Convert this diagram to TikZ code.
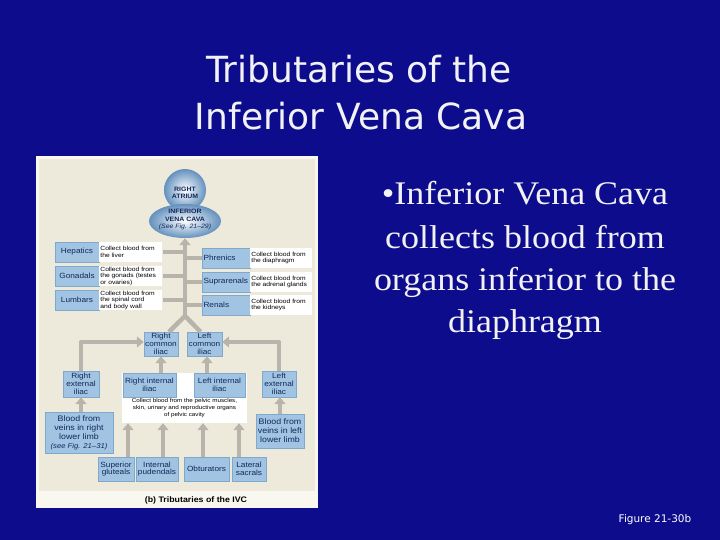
\documentclass[tikz,border=0pt]{standalone}
\usepackage{fontspec}
\setmainfont{Liberation Serif}
\newfontfamily\titlefont{DejaVu Sans}
\newfontfamily\bodyfont[FakeStretch=1.09]{Liberation Serif}
\newfontfamily\labfont[FakeStretch=1.1]{Liberation Sans}
\newfontfamily\descfont[FakeStretch=1.12]{Liberation Sans}
\usetikzlibrary{arrows.meta,shapes.geometric}
\definecolor{slidebg}{RGB}{12,12,140}
\definecolor{beige}{RGB}{238,234,219}
\definecolor{panelwhite}{RGB}{248,247,240}
\definecolor{boxblue}{RGB}{160,196,226}
\definecolor{boxedge}{RGB}{128,168,204}
\definecolor{boxtext}{RGB}{20,40,90}
\definecolor{conngray}{RGB}{184,180,172}
\definecolor{sphereblue}{RGB}{100,145,190}
\begin{document}
\begin{tikzpicture}[x=1pt,y=-1pt,
  titletxt/.style={font=\titlefont\fontsize{36}{44}\selectfont, text={rgb,255:red,242;green,242;blue,245}, inner sep=0pt},
  bodytxt/.style={font=\bodyfont\fontsize{33}{42}\selectfont, text={rgb,255:red,242;green,242;blue,245}, inner sep=0pt},
  bb/.style={draw=boxedge, line width=0.4pt, fill=boxblue, text=boxtext, inner sep=0pt, align=center,
             font=\labfont\fontsize{7.5}{7.8}\selectfont},
  wb/.style={fill=white, text=black, inner ysep=0pt, inner xsep=1pt, align=left,
             font=\descfont\fontsize{6}{6.5}\selectfont},
  gline/.style={draw=conngray, line width=4.5pt, line join=round},
  garrow/.style={gline, -{Triangle[width=11pt,length=7pt]}},
  bubtxt/.style={text=boxtext, inner sep=0pt, align=center, font=\labfont\bfseries\fontsize{6.3}{7.5}\selectfont}
]
\useasboundingbox (0,0) rectangle (720,540);
\fill[slidebg] (0,0) rectangle (720,540);

% title
\node[titletxt, anchor=base] (t1) at (359,83) {Tributaries of the};
\node[titletxt, anchor=base] (t2) at (361,130) {Inferior Vena Cava};

% body text
\node[bodytxt, anchor=base] (b1) at (525,205) {•Inferior Vena Cava};
\node[bodytxt, anchor=base] (b2) at (525,248) {collects blood from};
\node[bodytxt, anchor=base] (b3) at (525,290) {organs inferior to the};
\node[bodytxt, anchor=base] (b4) at (525,332) {diaphragm};

\node[font=\titlefont\fontsize{10.5}{12}\selectfont, text=white, anchor=base, inner sep=0pt] (fig) at (655,522) {Figure 21-30b};

% panel
\fill[panelwhite] (36,156) rectangle (318,508);
\fill[beige] (39,159) rectangle (315,491);

% atrium and IVC
\node[circle, minimum size=42pt, inner sep=0pt, shading=radial, inner color=white, outer color=sphereblue] (ra) at (185,190) {};
\node[bubtxt] (ratxt) at (185,193) {RIGHT\\ATRIUM};
\node[ellipse, minimum width=72pt, minimum height=34pt, inner sep=0pt, shading=radial, inner color=white, outer color=sphereblue] (ivc) at (185,221) {};
\node[bubtxt] (ivctxt) at (185,219.5) {INFERIOR\\VENA CAVA\\{\mdseries\itshape (See Fig. 21–29)}};

% trunk
\coordinate (split) at (185,316);

% left rows
\node[bb, minimum width=44pt, minimum height=20pt] (hep) at (77,252) {Hepatics};
\node[wb, anchor=west, text width=61pt, minimum height=20pt] (hepd) at (hep.east) {Collect blood from\\the liver};
\node[bb, minimum width=44pt, minimum height=20pt] (gon) at (77,276) {Gonadals};
\node[wb, anchor=west, text width=61pt, minimum height=20pt] (gond) at (gon.east) {Collect blood from\\the gonads (testes\\or ovaries)};
\node[bb, minimum width=44pt, minimum height=20pt] (lum) at (77,300) {Lumbars};
\node[wb, anchor=west, text width=61pt, minimum height=20pt] (lumd) at (lum.east) {Collect blood from\\the spinal cord\\and body wall};

% right rows
\node[bb, text width=45pt, inner xsep=1.5pt, align=left, minimum height=20pt] (phr) at (226,258) {Phrenics};
\node[wb, anchor=west, text width=60pt, minimum height=20pt] (phrd) at (phr.east) {Collect blood from\\the diaphragm};
\node[bb, text width=45pt, inner xsep=1.5pt, align=left, minimum height=20pt] (sup) at (226,282) {Suprarenals};
\node[wb, anchor=west, text width=60pt, minimum height=20pt] (supd) at (sup.east) {Collect blood from\\the adrenal glands};
\node[bb, text width=45pt, inner xsep=1.5pt, align=left, minimum height=20pt] (ren) at (226,305) {Renals};
\node[wb, anchor=west, text width=60pt, minimum height=20pt] (rend) at (ren.east) {Collect blood from\\the kidneys};

% connectors to trunk
\draw[garrow] (split) -- (ivc.south);
\draw[gline] (hepd.east) -- (hepd.east -| split);
\draw[gline] (gond.east) -- (gond.east -| split);
\draw[gline] (lumd.east) -- (lumd.east -| split);
\draw[gline] (phr.west -| split) -- (phr.west);
\draw[gline] (sup.west -| split) -- (sup.west);
\draw[gline] (ren.west -| split) -- (ren.west);

% iliacs
\node[bb, minimum width=34pt, minimum height=24pt] (rci) at (161,344) {Right\\common\\iliac};
\node[bb, minimum width=35pt, minimum height=24pt] (lci) at (204.5,344) {Left\\common\\iliac};
\draw[gline] (split) -- ([xshift=8pt]rci.north);
\draw[gline] (split) -- ([xshift=-4pt]lci.north);

\node[bb, minimum width=36pt, minimum height=26pt] (rei) at (81,384) {Right\\external\\iliac};
\node[bb, minimum width=34pt, minimum height=26pt] (lei) at (279,384) {Left\\external\\iliac};

\node[fill=white, minimum width=125pt, minimum height=50pt, inner sep=0pt] (pel) at (184.5,398) {};
\node[text=black, inner sep=0pt, align=center, anchor=north, font=\descfont\fontsize{5.6}{7}\selectfont] (peltxt) at (184.5,398.5) {Collect blood from the pelvic muscles,\\skin, urinary and reproductive organs\\of pelvic cavity};
\node[bb, minimum width=53pt, minimum height=24pt] (rii) at (149.5,385) {Right internal\\iliac};
\node[bb, minimum width=51pt, minimum height=24pt] (lii) at (219.5,385) {Left internal\\iliac};

\node[bb, minimum width=68pt, minimum height=41pt, font=\labfont\fontsize{8}{9}\selectfont] (bright) at (79,432.5) {Blood from\\veins in right\\lower limb\\{\itshape\fontsize{7}{9}\selectfont (see Fig. 21–31)}};
\node[bb, minimum width=48pt, minimum height=34pt, font=\labfont\fontsize{8}{9}\selectfont] (bleft) at (280,431) {Blood from\\veins in left\\lower limb};

\node[bb, minimum width=36pt, minimum height=24pt] (sg) at (116,469) {Superior\\gluteals};
\node[bb, minimum width=42pt, minimum height=24pt] (ip) at (157,469) {Internal\\pudendals};
\node[bb, minimum width=45pt, minimum height=24pt] (ob) at (206.5,469) {Obturators};
\node[bb, minimum width=34pt, minimum height=24pt] (ls) at (249,469) {Lateral\\sacrals};

\draw[garrow] ([xshift=2pt]bright.north) -- ([xshift=2pt]bright.north |- rei.south);
\draw[garrow] (bleft.north) -- (bleft.north |- lei.south);
\draw[garrow] (rei.north) |- ([yshift=2pt]rci.west);
\draw[garrow] (lei.north) |- ([yshift=2pt]lci.east);
\draw[garrow] (rci.south |- rii.north) -- (rci.south);
\draw[garrow] ([xshift=2.5pt]lci.south |- lii.north) -- ([xshift=2.5pt]lci.south);
\draw[garrow] ([xshift=12pt]sg.north) -- ([xshift=12pt]sg.north |- pel.south);
\draw[garrow] ([xshift=6pt]ip.north) -- ([xshift=6pt]ip.north |- pel.south);
\draw[garrow] ([xshift=-3.5pt]ob.north) -- ([xshift=-3.5pt]ob.north |- pel.south);
\draw[garrow] ([xshift=-10pt]ls.north) -- ([xshift=-10pt]ls.north |- pel.south);

\node[text=black, inner sep=0pt, font=\labfont\bfseries\fontsize{8}{9}\selectfont] (cap) at (196,500) {(b) Tributaries of the IVC};
\end{tikzpicture}
\end{document}
